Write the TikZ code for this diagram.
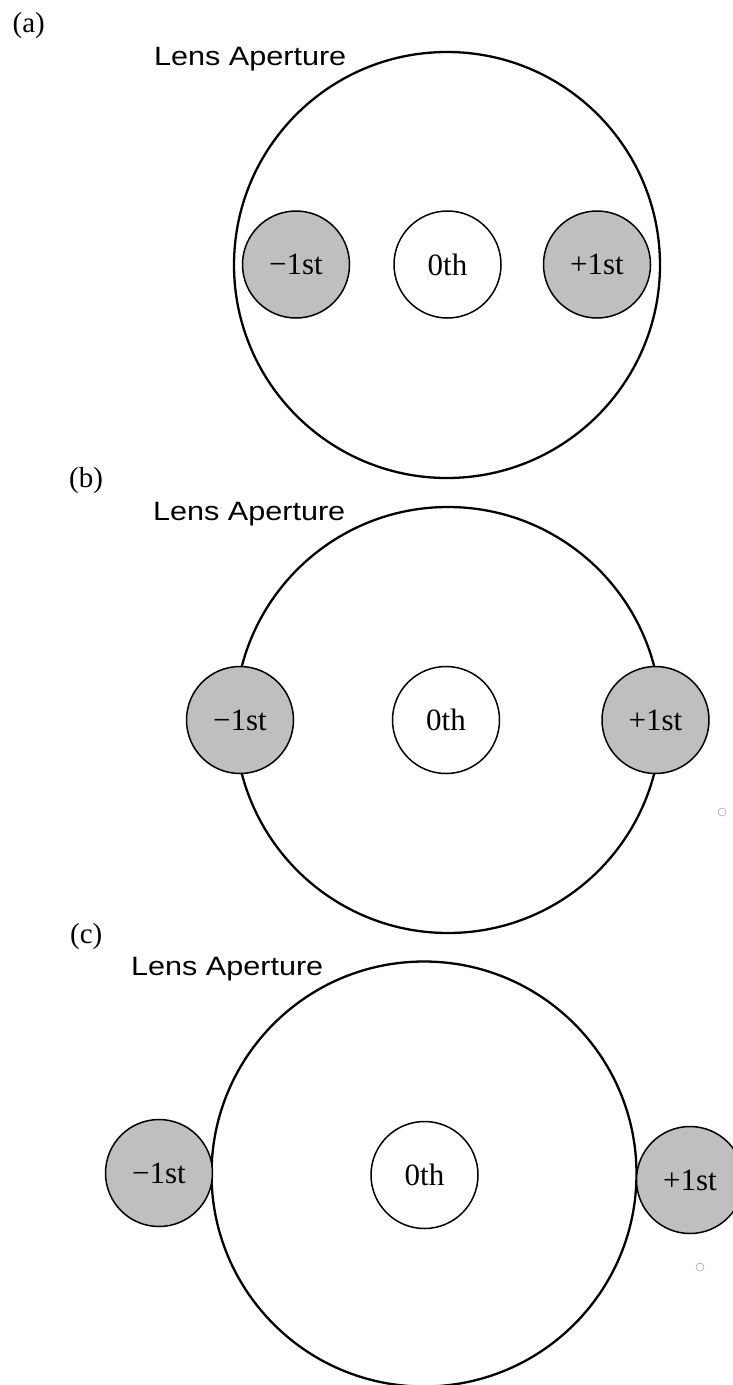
\documentclass[tikz,border=0pt]{standalone}
\usepackage{fontspec}
\setmainfont{Liberation Serif}
\newfontfamily\lenssans{Liberation Sans}
\newcommand\ordfont{\fontsize{31}{36}\selectfont}
\newcommand\lensfont{\lenssans\fontsize{26.5}{30}\selectfont}
\newcommand\panelfont{\fontsize{29}{33}\selectfont}
\newcommand\lenstext{\scalebox{1.154}[1]{Lens Aperture}}
\begin{document}
\begin{tikzpicture}[x=1pt,y=-1pt,
  aperture/.style={circle, draw=black, line width=2.3pt, inner sep=0pt, minimum size=426pt},
  order/.style={circle, draw=black, line width=1.5pt, fill=black!25, inner sep=0pt, minimum size=107pt, font=\ordfont},
  zeroth/.style={order, fill=white},
  lenslabel/.style={anchor=base west, inner sep=0pt, font=\lensfont},
  panel/.style={anchor=base west, inner sep=0pt, font=\panelfont},
  dot/.style={circle, draw=black!35, line width=0.6pt, inner sep=0pt, minimum size=8pt}]
\useasboundingbox (0,0) rectangle (733,1385);
% (a)
\node[aperture] (apA) at (447,265) {};
\node[order] (mA) at (296,264.5) {−1st};
\node[zeroth] (zA) at (447.5,264.5) {0th};
\node[order] (pA) at (597,264.5) {+1st};
\node[lenslabel] (lA) at (154,65.5) {\lenstext};
\node[panel] (labA) at (12.5,32.3) {(a)};
% (b)
\node[aperture] (apB) at (448,720) {};
\node[order] (mB) at (240,720) {−1st};
\node[zeroth] (zB) at (446,720) {0th};
\node[order] (pB) at (655.5,720) {+1st};
\node[lenslabel] (lB) at (153,520) {\lenstext};
\node[panel] (labB) at (69,487) {(b)};
\node[dot] (dB) at (722,812) {};
% (c)
\node[aperture, minimum size=425pt] (apC) at (424,1174) {};
\node[order] (mC) at (159,1173) {−1st};
\node[zeroth] (zC) at (424.5,1175) {0th};
\node[order] (pC) at (690,1180) {+1st};
\node[lenslabel] (lC) at (131,975) {\lenstext};
\node[panel] (labC) at (70,943) {(c)};
\node[dot] (dC) at (700,1267) {};
\end{tikzpicture}
\end{document}
